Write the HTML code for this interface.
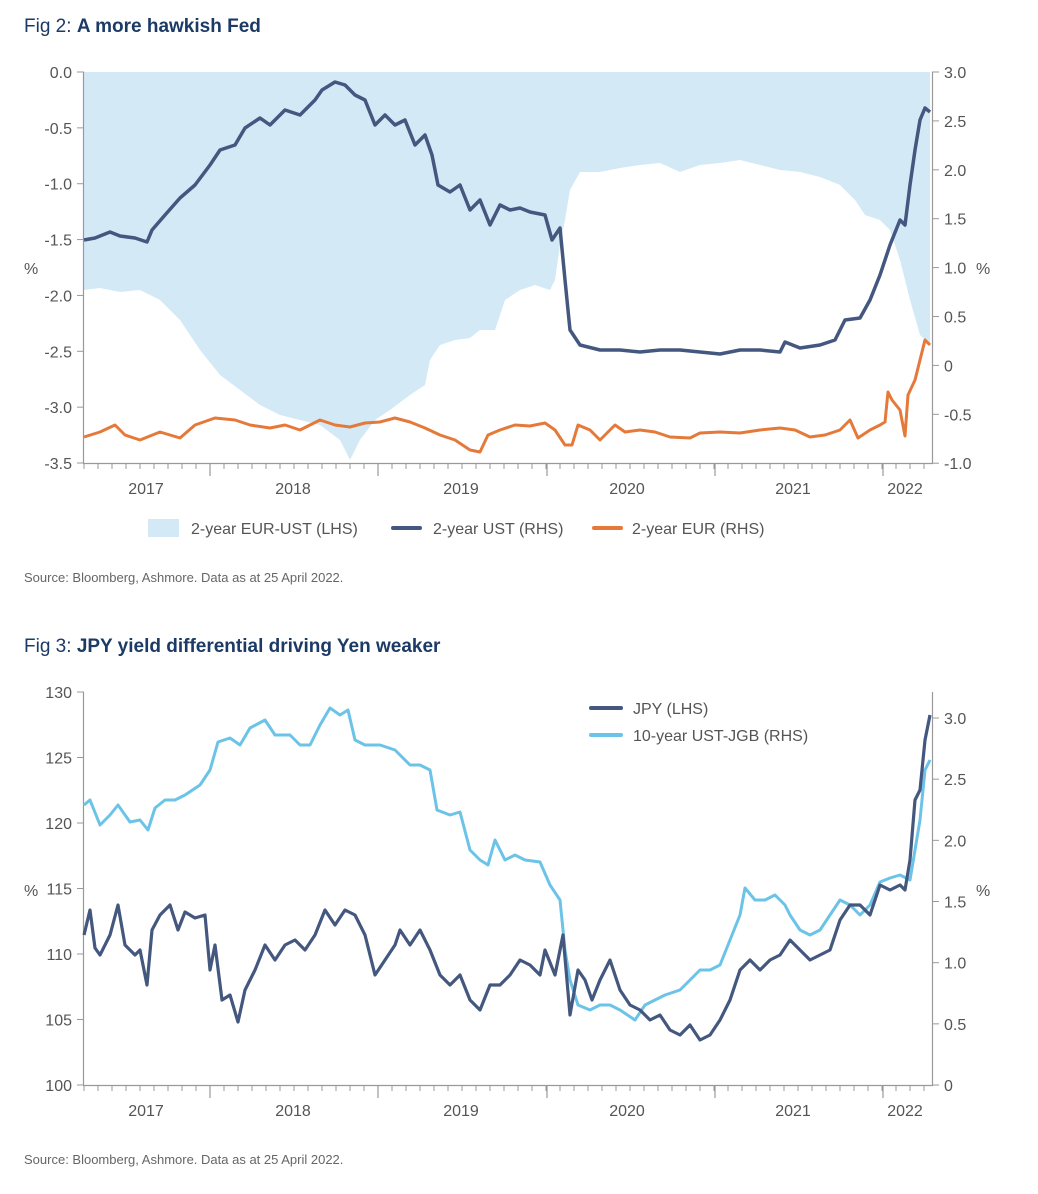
<!DOCTYPE html>
<html><head><meta charset="utf-8"><style>
body{margin:0;background:#fff;width:1038px;height:1194px;overflow:hidden}
svg{display:block}
text{font-family:"Liberation Sans Narrow","Liberation Sans",sans-serif}
</style></head><body>
<svg id="s" width="1038" height="1194" xmlns="http://www.w3.org/2000/svg">
<text x="24" y="32" font-size="19" fill="#1b3a66">Fig 2: <tspan font-weight="bold">A more hawkish Fed</tspan></text>
<text x="24" y="652" font-size="19" fill="#1b3a66">Fig 3: <tspan font-weight="bold">JPY yield differential driving Yen weaker</tspan></text>
<g id="gtop"></g><g id="gbot"></g>
<g font-size="16" fill="#555">
<rect x="148" y="519" width="31" height="18" fill="#d3eaf6"/>
<text x="191" y="534">2-year EUR-UST (LHS)</text>
<line x1="393" y1="528" x2="420" y2="528" stroke="#44577f" stroke-width="4" stroke-linecap="round"/>
<text x="433" y="534">2-year UST (RHS)</text>
<line x1="594" y1="528" x2="621" y2="528" stroke="#e5793a" stroke-width="4" stroke-linecap="round"/>
<text x="632" y="534">2-year EUR (RHS)</text>
<line x1="591" y1="708" x2="621" y2="708" stroke="#44577f" stroke-width="4" stroke-linecap="round"/>
<text x="633" y="714">JPY (LHS)</text>
<line x1="591" y1="735" x2="621" y2="735" stroke="#6cc3e8" stroke-width="4" stroke-linecap="round"/>
<text x="633" y="741">10-year UST-JGB (RHS)</text>
</g>
<text x="24" y="582" font-size="13" fill="#666">Source: Bloomberg, Ashmore. Data as at 25 April 2022.</text>
<text x="24" y="1164" font-size="13" fill="#666">Source: Bloomberg, Ashmore. Data as at 25 April 2022.</text>
</svg>
<script>
(function(){
const NS="http://www.w3.org/2000/svg";
function el(p,t,a,txt){const e=document.createElementNS(NS,t);for(const k in a)e.setAttribute(k,a[k]);if(txt!=null)e.textContent=txt;p.appendChild(e);return e;}
function pts(a){let s=[];for(let i=0;i<a.length;i+=2)s.push(a[i]+","+a[i+1]);return s.join(" ");}
const gT=document.getElementById("gtop"),gB=document.getElementById("gbot");
const spread=[84,290,100,288,120,292,140,290,160,300,180,320,200,350,220,375,240,390,260,405,280,415,300,420,320,425,340,440,350,460,360,440,375,420,390,410,410,395,425,385,430,360,440,345,455,340,470,338,480,330,495,330,505,300,520,290,535,285,550,290,555,280,560,245,565,220,570,190,580,172,600,172,620,168,640,165,660,163,680,172,700,165,720,163,740,160,760,165,780,170,800,172,820,177,840,185,855,200,865,215,880,220,890,230,900,260,910,300,920,335,930,345];
el(gT,"polygon",{points:"84,72 "+pts(spread)+" 930,72",fill:"#d3eaf6"});
const ust=[84,240,95,238,110,232,120,236,135,238,147,242,152,230,165,215,180,198,195,185,210,165,220,150,235,145,245,128,260,118,270,125,285,110,300,115,315,100,322,90,335,82,345,85,355,95,365,100,375,125,385,115,395,125,405,120,415,145,425,135,432,155,438,185,450,192,460,185,470,210,480,200,490,225,500,205,510,210,520,208,530,212,545,215,552,240,560,228,565,280,570,330,580,345,600,350,620,350,640,352,660,350,680,350,700,352,720,354,740,350,760,350,780,352,785,342,800,348,820,345,835,340,845,320,860,318,870,300,880,275,890,245,900,220,905,225,910,185,915,150,920,120,925,108,930,112];
const eur=[84,437,100,432,115,425,125,435,140,440,160,432,180,438,195,425,215,418,235,420,250,425,270,428,285,425,300,430,320,420,335,425,350,427,365,423,380,422,395,418,410,422,425,428,440,435,455,440,470,450,480,452,488,435,500,430,515,425,530,426,545,423,555,430,565,445,572,445,578,425,590,430,600,440,615,425,625,432,640,430,655,432,670,437,690,438,700,433,720,432,740,433,760,430,780,428,795,430,810,437,825,435,840,430,850,420,858,438,870,430,880,425,885,422,888,392,892,400,900,410,905,436,908,395,915,380,920,360,925,340,930,345];
function axes(g,y0,y1,L,R){
 el(g,"line",{x1:83.5,y1:y0,x2:83.5,y2:y1,stroke:"#999","stroke-width":1.2});
 el(g,"line",{x1:932.5,y1:y0,x2:932.5,y2:y1,stroke:"#999","stroke-width":1.2});
 el(g,"line",{x1:83,y1:y1+.5,x2:933,y2:y1+.5,stroke:"#999","stroke-width":1.2});
 L.forEach(function(a){el(g,"line",{x1:77,y1:a[0],x2:84,y2:a[0],stroke:"#999"});el(g,"text",{x:72,y:a[0]+6,"text-anchor":"end","font-size":16,fill:"#555"},a[1]);});
 R.forEach(function(a){el(g,"line",{x1:932,y1:a[0],x2:939,y2:a[0],stroke:"#999"});el(g,"text",{x:944,y:a[0]+6,"font-size":16,fill:"#555"},a[1]);});
 for(let x=84;x<=932;x+=14){el(g,"line",{x1:x,y1:y1,x2:x,y2:y1+6,stroke:"#999"});}
 [210,378,547,715,883].forEach(function(x){el(g,"line",{x1:x,y1:y1,x2:x,y2:y1+13,stroke:"#999","stroke-width":1.2});});
 [[146,"2017"],[293,"2018"],[461,"2019"],[627,"2020"],[793,"2021"],[905,"2022"]].forEach(function(a){el(g,"text",{x:a[0],y:y1+31,"text-anchor":"middle","font-size":16,fill:"#555"},a[1]);});
}
const L1=[],R1=[];
["0.0","-0.5","-1.0","-1.5","-2.0","-2.5","-3.0","-3.5"].forEach(function(t,i){L1.push([72+i*55.86,t]);});
["3.0","2.5","2.0","1.5","1.0","0.5","0","-0.5","-1.0"].forEach(function(t,i){R1.push([72+i*48.9,t]);});
axes(gT,72,463,L1,R1);
el(gT,"polyline",{points:pts(ust),fill:"none",stroke:"#44577f","stroke-width":3.5,"stroke-linejoin":"round"});
el(gT,"polyline",{points:pts(eur),fill:"none",stroke:"#e5793a","stroke-width":3,"stroke-linejoin":"round"});
el(gT,"text",{x:24,y:274,"font-size":16,fill:"#555"},"%");
el(gT,"text",{x:976,y:274,"font-size":16,fill:"#555"},"%");
const jpy=[84,935,90,910,95,948,100,955,110,935,118,905,125,945,135,955,140,950,147,985,152,930,160,915,170,905,178,930,185,912,195,918,205,915,210,970,215,945,222,1000,230,995,238,1022,245,990,255,970,265,945,275,960,285,945,295,940,305,950,315,935,325,910,335,925,345,910,355,915,365,935,375,975,385,960,395,945,400,930,410,945,420,930,430,950,440,975,450,985,460,975,470,1000,480,1010,490,985,500,985,510,975,520,960,530,965,540,975,545,950,555,975,563,935,570,1015,578,970,585,980,592,1000,600,980,610,960,620,990,630,1005,640,1010,650,1020,660,1015,670,1030,680,1035,690,1025,700,1040,710,1035,720,1020,730,1000,740,970,750,960,760,970,770,960,780,955,790,940,800,950,810,960,820,955,830,950,840,920,850,905,860,905,870,915,880,885,890,890,900,885,905,890,910,860,915,800,920,790,925,740,930,715];
const jgb=[84,805,90,800,100,825,110,815,118,805,130,822,140,820,148,830,155,808,165,800,175,800,185,795,200,785,210,770,218,742,230,738,240,745,250,728,265,720,275,735,290,735,300,745,310,745,320,725,330,708,340,715,348,710,355,740,365,745,380,745,395,750,410,765,420,765,430,770,437,810,450,815,460,812,470,850,480,860,488,865,495,840,505,860,515,855,525,860,540,862,550,885,560,900,565,950,570,980,578,1005,590,1010,600,1005,610,1005,620,1010,635,1020,645,1005,655,1000,665,995,680,990,690,980,700,970,710,970,720,965,730,940,740,915,745,888,755,900,765,900,775,895,785,905,790,915,800,930,810,935,820,930,830,915,840,900,850,905,860,915,870,905,880,882,890,878,900,875,910,880,915,850,920,820,925,770,930,760];
const L2=[],R2=[];
["130","125","120","115","110","105","100"].forEach(function(t,i){L2.push([692+i*65.5,t]);});
["3.0","2.5","2.0","1.5","1.0","0.5","0"].forEach(function(t,i){R2.push([718+i*61.17,t]);});
axes(gB,692,1085,L2,R2);
el(gB,"polyline",{points:pts(jgb),fill:"none",stroke:"#6cc3e8","stroke-width":3,"stroke-linejoin":"round"});
el(gB,"polyline",{points:pts(jpy),fill:"none",stroke:"#44577f","stroke-width":3.2,"stroke-linejoin":"round"});
el(gB,"text",{x:24,y:896,"font-size":16,fill:"#555"},"%");
el(gB,"text",{x:976,y:896,"font-size":16,fill:"#555"},"%");
})();
</script>
</body></html>
